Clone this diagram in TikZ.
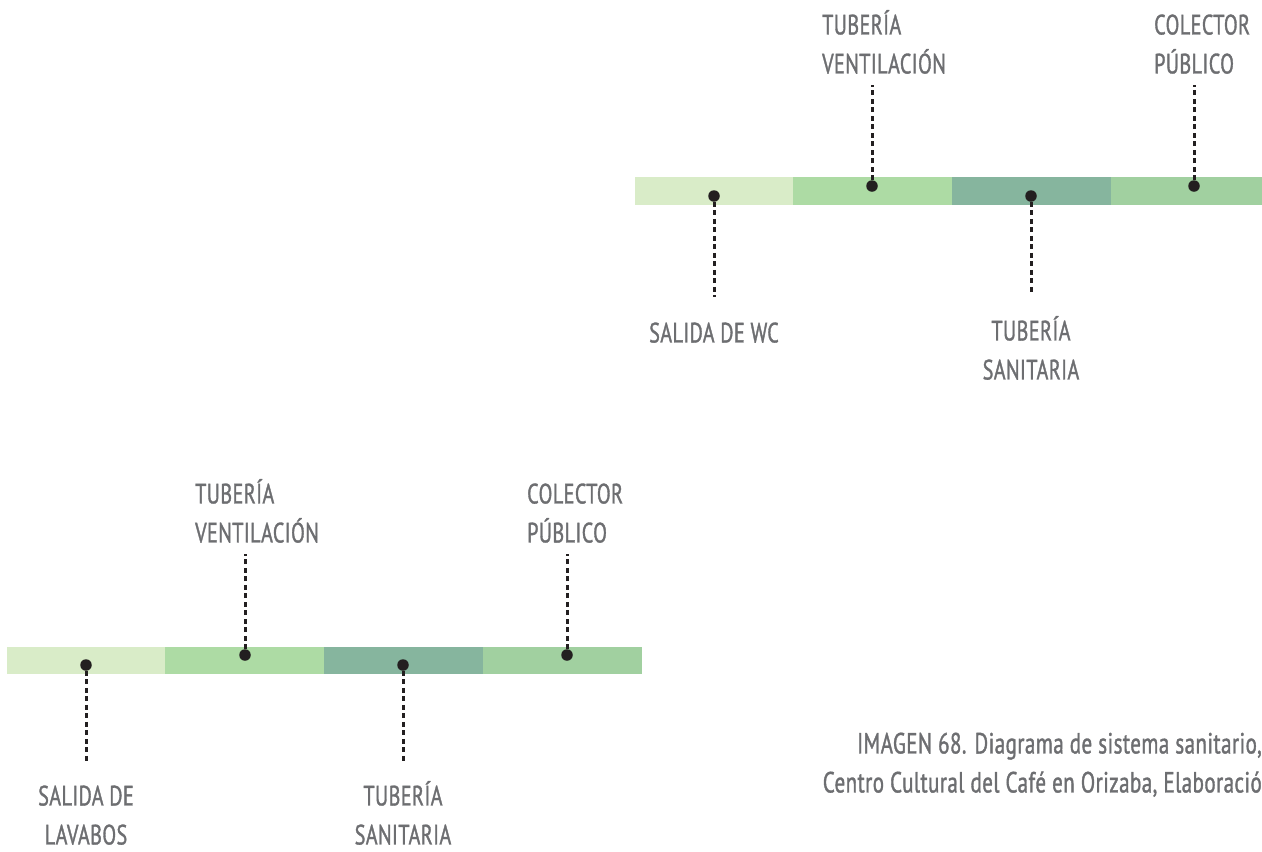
\documentclass[tikz,border=0pt]{standalone}
\usepackage{fontspec}
\setmainfont{PT Sans}[FakeStretch=0.72,LetterSpace=1.5,FakeBold=1.2]
\usepackage{xcolor}
\definecolor{seg1}{HTML}{D9ECC8}
\definecolor{seg2}{HTML}{ADDBA4}
\definecolor{seg3}{HTML}{86B59E}
\definecolor{seg4}{HTML}{A1D0A0}
\definecolor{ink}{HTML}{6D6E71}
\definecolor{dotc}{HTML}{231F20}
\usetikzlibrary{positioning,calc}
\tikzset{
  lbl/.style={font=\fontsize{28}{39}\selectfont,text=ink,inner sep=0pt},
  caplbl/.style={lbl,font=\fontsize{29.2}{39}\selectfont},
  pin/.style={circle,fill=dotc,inner sep=0pt,minimum size=11.5pt},
  lead/.style={draw=dotc,line width=3pt,dash pattern=on 5pt off 3.5pt},
}
\begin{document}
\begin{tikzpicture}[x=1pt,y=-1pt]
\useasboundingbox (0,0) rectangle (1262,852);
% upper bar (WC)
\fill[seg1] (635,177) rectangle (793,205);
\fill[seg2] (793,177) rectangle (952,205);
\fill[seg3] (952,177) rectangle (1111,205);
\fill[seg4] (1111,177) rectangle (1262,205);
\node[pin] (wc) at (714,196) {};
\node[pin] (tv) at (872,186) {};
\node[pin] (ts) at (1031,196) {};
\node[pin] (cp) at (1194,186) {};
\node[lbl,align=left,anchor=south west] (tvL) at (822,74) {TUBERÍA\\VENTILACIÓN};
\node[lbl,align=left,anchor=south west] (cpL) at (1154,74) {COLECTOR\\PÚBLICO};
\node[lbl,align=center,anchor=south] (wcL) at (714,343) {SALIDA DE WC};
\node[lbl,align=center,anchor=south] (tsL) at (1031,380) {TUBERÍA\\SANITARIA};
\draw[lead,shorten >=11pt] (tv) -- (tv |- tvL.south);
\draw[lead,shorten >=11pt] (cp) -- (cp |- cpL.south);
\draw[lead,shorten >=25pt] (wc) -- (wc |- wcL.north);
\draw[lead,shorten >=22pt] (ts) -- (ts |- tsL.north);
% lower bar (lavabos)
\fill[seg1] (7,647) rectangle (165,674);
\fill[seg2] (165,647) rectangle (324,674);
\fill[seg3] (324,647) rectangle (483,674);
\fill[seg4] (483,647) rectangle (642,674);
\node[pin] (lv) at (86,665) {};
\node[pin] (tv2) at (245,655) {};
\node[pin] (ts2) at (403,665) {};
\node[pin] (cp2) at (567,655) {};
\node[lbl,align=left,anchor=south west] (tv2L) at (195,543) {TUBERÍA\\VENTILACIÓN};
\node[lbl,align=left,anchor=south west] (cp2L) at (527,543) {COLECTOR\\PÚBLICO};
\node[lbl,align=center,anchor=south] (lvL) at (86,845) {SALIDA DE\\LAVABOS};
\node[lbl,align=center,anchor=south] (ts2L) at (403,845) {TUBERÍA\\SANITARIA};
\draw[lead,shorten >=21pt] (lv) -- (lv |- lvL.north);
\draw[lead,shorten >=17pt] (ts2) -- (ts2 |- ts2L.north);
\draw[lead,shorten >=11pt] (tv2) -- (tv2 |- tv2L.south);
\draw[lead,shorten >=11pt] (cp2) -- (cp2 |- cp2L.south);
% caption
\node[caplbl,align=right,anchor=south east] (cap) at (1262,797) {IMAGEN 68. Diagrama de sistema sanitario,\\Centro Cultural del Café en Orizaba, Elaboració};
\end{tikzpicture}
\end{document}
